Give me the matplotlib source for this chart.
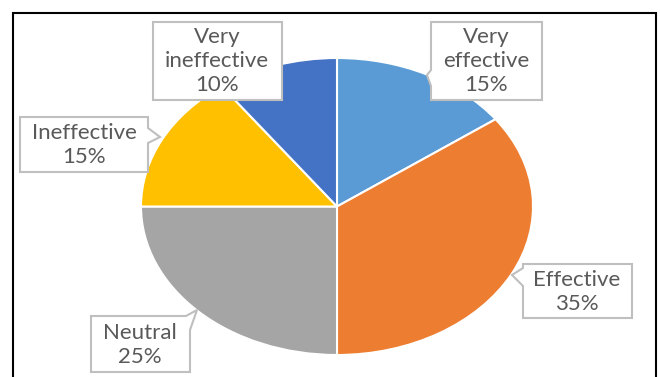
import matplotlib.pyplot as plt
from matplotlib.patches import Polygon, Rectangle

# survey answers
labels = ['Very\neffective', 'Effective', 'Neutral', 'Ineffective', 'Very\nineffective']
shares = [15, 35, 25, 15, 10]
colors = ['#5B9BD5', '#ED7D31', '#A5A5A5', '#FFC000', '#4472C4']

W, H = 660, 377
fig = plt.figure(figsize=(W / 100, H / 100), dpi=100)
plt.rcParams['font.family'] = ['Lato', 'DejaVu Sans']

def fx(x):
    return x / W

def fy(y):
    return 1 - y / H

# pie stretched wider than tall
ax = fig.add_axes([fx(141), fy(355), (533 - 141) / W, (355 - 58) / H])
ax.pie(shares, colors=colors, startangle=90, counterclock=False,
       wedgeprops=dict(edgecolor='white', linewidth=1.5))
ax.set_aspect('auto')
ax.set_xlim(-1, 1)
ax.set_ylim(-1, 1)

# outer frame
fig.add_artist(Rectangle((fx(13), fy(400)), fx(656) - fx(13), fy(13) - fy(400),
                         transform=fig.transFigure, fill=False,
                         edgecolor='black', linewidth=1.5))

# callout outlines (box corners + pointer), pixel layout
callouts = {
    'Very\neffective': [(431, 22), (542, 22), (542, 100), (431, 100), (431, 86), (427, 75), (431, 70)],
    'Effective': [(523, 264), (632, 264), (632, 318), (523, 318), (523, 286), (512, 275), (523, 268)],
    'Neutral': [(91, 316), (186, 316), (197, 310), (190, 330), (190, 372), (91, 372)],
    'Ineffective': [(20, 117), (148, 117), (148, 128), (160, 137), (148, 143), (148, 172), (20, 172)],
    'Very\nineffective': [(153, 22), (282, 22), (282, 100), (153, 100)],
}
centres = {
    'Very\neffective': (486, 61),
    'Effective': (577, 292),
    'Neutral': (140, 345),
    'Ineffective': (84, 145),
    'Very\nineffective': (217, 61),
}

for lab, val in zip(labels, shares):
    pts = [(fx(x), fy(y)) for x, y in callouts[lab]]
    fig.add_artist(Polygon(pts, closed=True, transform=fig.transFigure,
                           facecolor='white', edgecolor='#BFBFBF', linewidth=1.5))
    cx, cy = centres[lab]
    fig.text(fx(cx), fy(cy), f'{lab}\n{val}%', ha='center', va='center',
             fontsize=16, color='#595959', linespacing=1.25)

fig.savefig('out.png', dpi=100)
